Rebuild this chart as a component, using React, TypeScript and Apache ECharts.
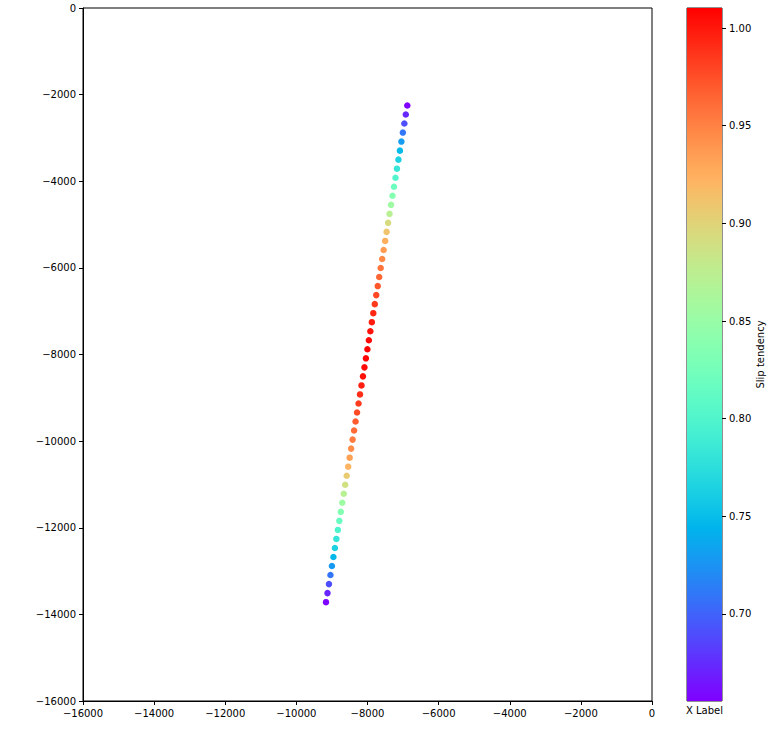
import React, { useEffect, useRef } from "react";
import * as echarts from "echarts";

// Point positions (x, y in metres), top to bottom
const xs: number[] = [
  -6881, -6923, -6964, -7006, -7047, -7089, -7130, -7172, -7213, -7255,
  -7297, -7338, -7380, -7421, -7463, -7504, -7546, -7588, -7629, -7671,
  -7712, -7754, -7795, -7837, -7878, -7920, -7962, -8003, -8045, -8086,
  -8128, -8169, -8211, -8252, -8294, -8336, -8377, -8419, -8460, -8502,
  -8543, -8585, -8627, -8668, -8710, -8751, -8793, -8834, -8876, -8917,
  -8959, -9001, -9042, -9084, -9125, -9167,
];
const ys: number[] = [
  -2250, -2459, -2667, -2876, -3084, -3293, -3501, -3710, -3918, -4127,
  -4335, -4544, -4752, -4961, -5169, -5378, -5586, -5795, -6003, -6212,
  -6420, -6629, -6837, -7046, -7254, -7463, -7671, -7880, -8088, -8297,
  -8505, -8714, -8922, -9131, -9339, -9548, -9756, -9965, -10173, -10382,
  -10590, -10799, -11007, -11216, -11424, -11633, -11841, -12050, -12258, -12467,
  -12675, -12884, -13092, -13301, -13509, -13718,
];
// Slip tendency per point
const slip: number[] = [
  0.6554, 0.673, 0.691, 0.71, 0.73, 0.748, 0.765, 0.783, 0.801, 0.819,
  0.836, 0.854, 0.872, 0.893, 0.911, 0.925, 0.936, 0.946, 0.957, 0.964,
  0.971, 0.978, 0.985, 0.993, 0.998, 1.003, 1.007, 1.0103, 1.009, 1.006,
  1.002, 0.997, 0.991, 0.984, 0.977, 0.969, 0.962, 0.954, 0.944, 0.933,
  0.921, 0.906, 0.889, 0.871, 0.853, 0.835, 0.817, 0.799, 0.781, 0.764,
  0.746, 0.728, 0.709, 0.69, 0.672, 0.656,
];
const cbTicks: number[] = [0.7, 0.75, 0.8, 0.85, 0.9, 0.95, 1.0];
const axisMin = -16000;
const axisMax = 0;
const axisStep = 2000;

const FONT = "DejaVu Sans";

function rainbow(t: number): string {
  const r = Math.min(1, Math.abs(2 * t - 0.5));
  const g = Math.sin(Math.PI * t);
  const b = Math.cos((Math.PI / 2) * t);
  const c = (v: number) => Math.round(Math.max(0, Math.min(1, v)) * 255);
  return `rgb(${c(r)},${c(g)},${c(b)})`;
}

const fmtNeg = (v: number) => (v < 0 ? "\u2212" + Math.abs(v) : String(v));

export default function App() {
  const ref = useRef<HTMLDivElement>(null);
  useEffect(() => {
    if (!ref.current) return;
    const chart = echarts.init(ref.current, undefined, { renderer: "svg" });
    const vmin = Math.min(...slip);
    const vmax = Math.max(...slip);
    const N = 40;
    const colors: string[] = [];
    const stops: { offset: number; color: string }[] = [];
    for (let i = 0; i <= N; i++) {
      colors.push(rainbow(i / N));
      stops.push({ offset: i / N, color: rainbow(i / N) });
    }
    const data = xs.map((x, i) => [x, ys[i], slip[i]]);
    const labelStyle = { fontFamily: FONT, fontSize: 10, color: "#000" };
    const mainAxis = (margin: number) => ({
      type: "value" as const,
      min: axisMin,
      max: axisMax,
      interval: axisStep,
      axisLine: { show: true, onZero: false, lineStyle: { color: "#000", width: 1 } },
      axisTick: { show: true, length: 4, lineStyle: { color: "#000" } },
      splitLine: { show: false },
      axisLabel: { ...labelStyle, margin, formatter: fmtNeg },
    });
    chart.setOption({
      animation: false,
      backgroundColor: "#fff",
      grid: [
        { left: 83, top: 8, width: 569, height: 693, show: true, borderColor: "#000", borderWidth: 1 },
        { left: 687, top: 8, width: 35, height: 693, show: true, borderColor: "#222", borderWidth: 1 },
      ],
      xAxis: [
        { ...mainAxis(7), gridIndex: 0 },
        {
          gridIndex: 1,
          type: "category",
          data: [""],
          axisLine: { show: false },
          axisTick: { show: false },
          axisLabel: { show: false },
          name: "X Label",
          nameLocation: "middle",
          nameGap: 4,
          nameTextStyle: { ...labelStyle, verticalAlign: "top" },
        },
      ],
      yAxis: [
        { ...mainAxis(7), gridIndex: 0 },
        {
          gridIndex: 1,
          type: "value",
          position: "right",
          min: vmin,
          max: vmax,
          axisLine: { show: false },
          splitLine: { show: false },
          axisTick: { show: true, length: 4, customValues: cbTicks, lineStyle: { color: "#000" } },
          axisLabel: {
            ...labelStyle,
            margin: 7,
            customValues: cbTicks,
            formatter: (v: number) => v.toFixed(2),
          },
          name: "Slip tendency",
          nameLocation: "middle",
          nameRotate: 90,
          nameGap: 33,
          nameTextStyle: { ...labelStyle },
        },
      ],
      visualMap: {
        type: "continuous",
        show: false,
        seriesIndex: 0,
        dimension: 2,
        min: vmin,
        max: vmax,
        inRange: { color: colors },
      },
      series: [
        {
          type: "scatter",
          xAxisIndex: 0,
          yAxisIndex: 0,
          symbolSize: 6.5,
          data,
          itemStyle: { opacity: 1 },
        },
        {
          type: "bar",
          xAxisIndex: 1,
          yAxisIndex: 1,
          stack: "cb",
          barWidth: "100%",
          silent: true,
          data: [vmin],
          itemStyle: { color: "rgba(0,0,0,0)" },
        },
        {
          type: "bar",
          xAxisIndex: 1,
          yAxisIndex: 1,
          stack: "cb",
          barWidth: "100%",
          silent: true,
          data: [vmax - vmin],
          itemStyle: {
            color: { type: "linear", x: 0, y: 1, x2: 0, y2: 0, colorStops: stops },
          },
        },
      ],
    });
    return () => chart.dispose();
  }, []);
  return (
    <div
      ref={ref}
      style={{ position: "fixed", left: 0, top: 0, width: 781, height: 751, background: "#fff" }}
    />
  );
}
